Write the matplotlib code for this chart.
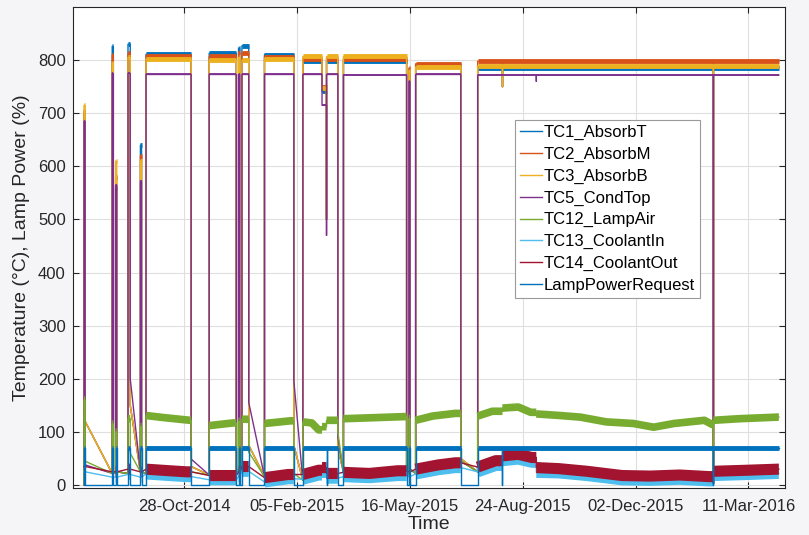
import numpy as np
import pandas as pd
import matplotlib
matplotlib.use('Agg')
import matplotlib.pyplot as plt
import matplotlib.dates as mdates

plt.rcParams['font.family'] = ['Liberation Sans', 'DejaVu Sans']

# lamp-on periods (start / end)
on_start = ['2014-07-31', '2014-08-25', '2014-08-28', '2014-09-08', '2014-09-19',
            '2014-09-24', '2014-11-19', '2014-12-15', '2014-12-18', '2015-01-07',
            '2015-02-10', '2015-02-27', '2015-03-03', '2015-03-18', '2015-05-15',
            '2015-05-21', '2015-07-15', '2015-08-06', '2015-09-05', '2016-02-09']
on_end = ['2014-08-01', '2014-08-26', '2014-08-29', '2014-09-10', '2014-09-20',
          '2014-11-03', '2014-12-13', '2014-12-16', '2014-12-24', '2015-02-02',
          '2015-02-27', '2015-03-03', '2015-03-13', '2015-05-13', '2015-05-16',
          '2015-06-30', '2015-08-06', '2015-09-05', '2016-02-09', '2016-04-07']

# level at the start of each on-period
tc1_on = [700, 826, 560, 830, 640, 811, 813, 823, 827, 810, 799, 741, 799, 799, 780, 790, 786, 786, 786, 786]
tc2_on = [705, 810, 580, 813, 620, 808, 807, 815, 813, 806, 803, 750, 803, 803, 785, 793, 798, 798, 798, 798]
tc3_on = [715, 795, 610, 805, 610, 802, 800, 805, 800, 802, 807, 747, 807, 807, 780, 787, 789, 789, 789, 789]
tc5_on = [685, 775, 565, 775, 572, 773, 773, 773, 773, 773, 773, 715, 773, 772, 760, 773, 772, 772, 772, 772]
tc12_on = [160, 115, 100, 125, 110, 131, 112, 120, 124, 116, 119, 110, 122, 125, 125, 122, 130, 145, 134, 122]
tc13_on = [25, 15, 15, 20, 15, 21, 10, 16, 26, 6, 11, 24, 13, 16, 16, 21, 25, 46, 24, 18]
tc14_on = [35, 25, 25, 30, 25, 30, 18, 25, 35, 14, 20, 33, 22, 24, 25, 30, 34, 55, 33, 26]
lamp_on = [70] * 20

# readings inside the long on-periods
tc12_mid = [('2014-10-10', 127), ('2014-11-02', 122), ('2014-12-10', 117),
            ('2015-01-30', 121), ('2015-02-18', 117), ('2015-02-24', 104),
            ('2015-04-15', 127), ('2015-05-12', 129), ('2015-06-05', 130),
            ('2015-06-25', 135), ('2015-07-28', 139), ('2015-08-20', 147),
            ('2015-08-31', 137), ('2015-09-26', 131), ('2015-10-14', 128),
            ('2015-11-06', 119), ('2015-11-30', 116), ('2015-12-18', 109),
            ('2016-01-05', 116), ('2016-02-01', 122), ('2016-02-08', 114),
            ('2016-03-03', 125), ('2016-04-06', 128)]
tc14_mid = [('2014-10-15', 27), ('2014-10-30', 25), ('2015-01-28', 20),
            ('2015-02-24', 28), ('2015-04-10', 22), ('2015-05-05', 27),
            ('2015-06-10', 38), ('2015-06-25', 42), ('2015-07-31', 46),
            ('2015-08-20', 58), ('2015-09-01', 52), ('2015-09-25', 31),
            ('2015-10-20', 26), ('2015-11-20', 18), ('2015-12-15', 17),
            ('2016-01-10', 19), ('2016-02-05', 16), ('2016-03-10', 28),
            ('2016-04-06', 30)]
tc13_mid = [('2014-10-15', 18), ('2014-10-30', 16), ('2015-01-28', 12),
            ('2015-02-24', 19), ('2015-04-10', 14), ('2015-05-05', 18),
            ('2015-06-10', 29), ('2015-06-25', 33), ('2015-07-31', 37),
            ('2015-08-20', 49), ('2015-09-01', 43), ('2015-09-25', 23),
            ('2015-10-20', 18), ('2015-11-20', 10), ('2015-12-15', 9),
            ('2016-01-10', 11), ('2016-02-05', 8), ('2016-03-10', 20),
            ('2016-04-06', 22)]

nan = np.nan
# value right after each shutdown (nan = no drop)
cool_abs = [120, 25, 25, 150, 25, 35, 30, 30, 75, 75, nan, 500, 70, 30, 30, 50, 750, nan, 3]
cool_tc5 = [38, 25, 25, 200, 25, 49, 30, 30, 156, 197, nan, 470, 90, 30, 30, 45, nan, 760, 3]
cool_tc12 = [45, 25, 25, 60, 25, 25, 30, 30, 62, 22, nan, nan, 100, 30, 30, 45, nan, nan, 3]
cool_water = [nan] * 18 + [3]
lamp_off = [0, 0, 0, 0, 0, 0, 0, 0, 0, 0, nan, 0, 0, 0, 0, 0, 0, nan, 0]
# ambient reading just before each restart
restart = [0, 22, 22, 22, 25, 22, 19, 25, 25, 16, 9, nan, nan, 25, 20, 22, 25, nan, nan, nan]
no_restart = [nan] * 20
lamp_restart = [0] * 20

names = ['TC1_AbsorbT', 'TC2_AbsorbM', 'TC3_AbsorbB', 'TC5_CondTop', 'TC12_LampAir',
         'TC13_CoolantIn', 'TC14_CoolantOut', 'LampPowerRequest']
colors = ['#0072BD', '#D95319', '#EDB120', '#7E2F8E', '#77AC30', '#4DBEEE', '#A2142F', '#0072BD']
band_w = [3.5, 3.5, 3.5, 1.3, 5.5, 8, 8, 3.5]

ts = mdates.date2num(pd.to_datetime(on_start))
te = mdates.date2num(pd.to_datetime(on_end))


def build(levels, mid, post, pre):
    mids = [(mdates.date2num(pd.Timestamp(d)), v) for d, v in mid]
    t, v, bt, bv = [], [], [], []
    for i in range(len(ts)):
        gap = i == 0 or ts[i] > te[i - 1]
        if gap and not np.isnan(pre[i]):
            t.append(ts[i]); v.append(pre[i])
        seg = [(ts[i], levels[i])] + [m for m in mids if ts[i] < m[0] < te[i]]
        seg.append((te[i], seg[-1][1]))
        for a, b in seg:
            t.append(a); v.append(b)
            bt.append(a); bv.append(b)
        bt.append(nan); bv.append(nan)
        if i < len(post) and not np.isnan(post[i]):
            t.append(te[i]); v.append(post[i])
    return t, v, bt, bv


series = [
    (tc1_on, [], cool_abs, restart),
    (tc2_on, [], cool_abs, restart),
    (tc3_on, [], cool_abs, restart),
    (tc5_on, [], cool_tc5, restart),
    (tc12_on, tc12_mid, cool_tc12, restart),
    (tc13_on, tc13_mid, cool_water, no_restart),
    (tc14_on, tc14_mid, cool_water, no_restart),
    (lamp_on, [], lamp_off, lamp_restart),
]

fig = plt.figure(figsize=(8.09, 5.35), dpi=100, facecolor='#f5f5f7')
ax = fig.add_axes([0.0899, 0.0873, 0.8805, 0.8996])

for k, (lv, md, po, pr) in enumerate(series):
    t, v, bt, bv = build(lv, md, po, pr)
    ax.plot(t, v, color=colors[k], lw=1.0, label=names[k], zorder=2 + k)
    ax.plot(bt, bv, color=colors[k], lw=band_w[k], solid_capstyle='butt', zorder=2 + k)

ticks = ['2014-10-28', '2015-02-05', '2015-05-16', '2015-08-24', '2015-12-02', '2016-03-11']
ax.set_xticks(mdates.date2num(pd.to_datetime(ticks)))
ax.xaxis.set_major_formatter(mdates.DateFormatter('%d-%b-%Y'))
ax.set_xlim(mdates.date2num(pd.Timestamp('2014-07-21')),
            mdates.date2num(pd.Timestamp('2016-04-12 12:00')))
ax.set_ylim(-6, 900)
ax.set_yticks(range(0, 900, 100))

ax.grid(True, color='#dfdfdf', lw=0.8)
ax.set_axisbelow(True)
ax.tick_params(direction='in', top=True, right=True, length=4, width=0.8,
               labelsize=12, colors='#262626')
ax.tick_params(axis='x', pad=8)
ax.tick_params(axis='y', pad=5)
for s in ax.spines.values():
    s.set_color('#262626')
    s.set_linewidth(0.8)

ax.set_xlabel('Time', fontsize=14, color='#262626', labelpad=1)
ax.set_ylabel('Temperature (°C), Lamp Power (%)', fontsize=14, color='#262626', labelpad=6)

leg = ax.legend(loc='upper left', bbox_to_anchor=(0.621, 0.765), borderaxespad=0,
                fontsize=12, handlelength=1.3, handletextpad=0.12,
                labelspacing=0.4, fancybox=False, framealpha=1,
                edgecolor='#9a9a9a', borderpad=0.3)
leg.get_frame().set_linewidth(0.8)
leg.set_zorder(20)

plt.savefig('out.png', dpi=100, facecolor=fig.get_facecolor())
